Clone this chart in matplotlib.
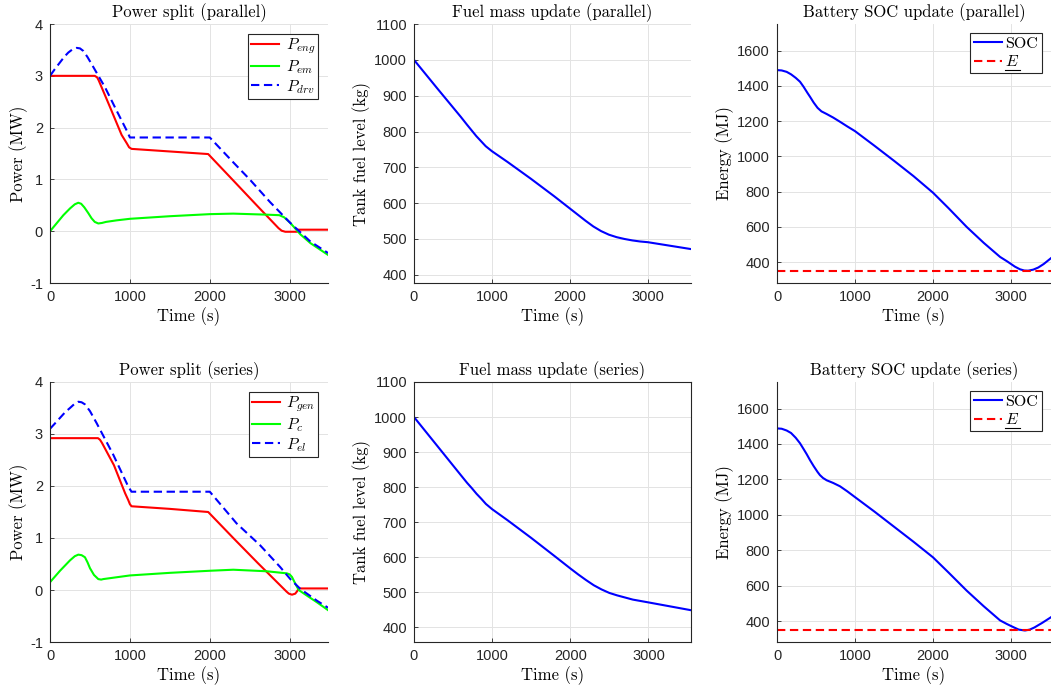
import numpy as np
import matplotlib.pyplot as plt
from matplotlib.lines import Line2D

plt.rcParams['mathtext.fontset'] = 'cm'
plt.rcParams['axes.unicode_minus'] = False
plt.rcParams['font.family'] = 'Liberation Sans'

# ---- power split, parallel (MW)
t_eng_par = [0, 560, 590, 610, 750, 896, 960, 990, 1021, 1500, 1980, 2300, 2600, 2860, 2900, 2945, 3092, 3100, 3480]
p_eng_par = [3.0, 3.0, 2.97, 2.91, 2.40, 1.86, 1.70, 1.62, 1.59, 1.54, 1.49, 0.97, 0.48, 0.06, 0.01, -0.01, -0.01, 0.03, 0.03]
t_em_par = [0, 167, 250, 310, 354, 390, 430, 479, 520, 560, 604, 650, 700, 833, 1000, 1500, 1875, 2000, 2294,
            2714, 2870, 2930, 3008, 3134, 3260, 3483]
p_em_par = [0.0, 0.31, 0.44, 0.52, 0.55, 0.53, 0.46, 0.35, 0.25, 0.18, 0.15, 0.16, 0.18, 0.21, 0.24, 0.29, 0.32,
            0.33, 0.34, 0.32, 0.31, 0.27, 0.16, -0.06, -0.23, -0.46]
t_drv_par = [0, 60, 125, 180, 229, 280, 333, 375, 417, 470, 542, 688, 833, 958, 1000, 2000, 2300, 2500, 2756, 3008,
             3260, 3480]
p_drv_par = [3.0, 3.13, 3.26, 3.37, 3.45, 3.51, 3.54, 3.53, 3.48, 3.36, 3.17, 2.78, 2.33, 1.95, 1.81, 1.81, 1.32,
             1.0, 0.56, 0.16, -0.2, -0.42]

# ---- power split, series (MW)
t_gen_ser = [0, 600, 625, 650, 800, 940, 979, 1000, 1020, 1500, 1980, 2300, 2600, 2960, 2990, 3029, 3070, 3095, 3113, 3480]
p_gen_ser = [2.92, 2.92, 2.89, 2.83, 2.40, 1.86, 1.73, 1.65, 1.61, 1.56, 1.50, 0.99, 0.52, -0.03, -0.07, -0.09, -0.07, -0.02, 0.03, 0.03]
t_c_ser = [0, 125, 250, 310, 354, 395, 437, 470, 500, 550, 604, 640, 667, 1000, 1500, 2000, 2294, 2714, 2966,
           3000, 3029, 3071, 3113, 3218, 3345, 3483]
p_c_ser = [0.15, 0.37, 0.57, 0.65, 0.68, 0.67, 0.63, 0.53, 0.42, 0.29, 0.21, 0.20, 0.21, 0.28, 0.33, 0.37, 0.39,
           0.36, 0.32, 0.30, 0.25, 0.12, 0.0, -0.11, -0.24, -0.39]
t_el_ser = [0, 60, 125, 190, 250, 300, 354, 395, 437, 500, 583, 792, 979, 1020, 2000, 2105, 2336, 2630, 2882, 3008,
            3134, 3345, 3480]
p_el_ser = [3.10, 3.20, 3.31, 3.42, 3.50, 3.57, 3.62, 3.61, 3.57, 3.44, 3.21, 2.60, 1.99, 1.89, 1.89, 1.70, 1.28,
            0.86, 0.44, 0.21, 0.02, -0.21, -0.34]

# ---- tank fuel level (kg)
t_fuel_par = [0, 300, 600, 680, 740, 800, 860, 920, 1000, 1100, 1200, 1500, 1800, 2000, 2100, 2200, 2300, 2400,
              2500, 2600, 2700, 2800, 2900, 3000, 3547]
fuel_par = [1000, 920, 841, 819, 803, 787, 773, 759, 745, 730, 715, 668, 619, 585, 568, 551, 535, 522, 512, 505,
            500, 496, 493, 491, 472]
t_fuel_ser = [0, 300, 600, 680, 740, 800, 860, 920, 1000, 1100, 1200, 1500, 1800, 2000, 2100, 2200, 2300, 2400,
              2500, 2600, 2700, 2800, 2900, 3000, 3538]
fuel_ser = [1000, 917, 834, 812, 797, 781, 767, 752, 737, 721, 705, 655, 603, 568, 551, 535, 520, 508, 498, 491,
            485, 479, 475, 471, 449]

# ---- battery energy (MJ)
t_soc_par = [0, 60, 124, 180, 240, 295, 340, 390, 423, 470, 520, 570, 637, 720, 808, 900, 1000, 1250, 1500, 1750,
             2000, 2200, 2432, 2650, 2860, 2950, 3050, 3115, 3170, 3220, 3286, 3350, 3420, 3513]
soc_par = [1489, 1487, 1479, 1465, 1445, 1423, 1395, 1360, 1338, 1305, 1275, 1255, 1240, 1220, 1196, 1170, 1143,
           1060, 975, 888, 794, 706, 600, 510, 430, 405, 375, 360, 353, 352, 358, 370, 390, 423]
t_soc_ser = [0, 60, 124, 180, 240, 295, 340, 380, 423, 470, 520, 551, 590, 637, 720, 808, 900, 1000, 1250, 1500,
             1750, 2000, 2200, 2432, 2650, 2860, 2950, 3040, 3100, 3179, 3240, 3300, 3400, 3513]
soc_ser = [1488, 1486, 1476, 1462, 1435, 1404, 1372, 1343, 1309, 1275, 1242, 1224, 1208, 1195, 1180, 1161, 1133,
           1100, 1018, 933, 848, 760, 674, 572, 484, 404, 383, 364, 352, 347, 352, 364, 390, 422]
e_min = 350

TXT = '#262626'
GRID = '#e3e3e3'
cm = {'family': 'cmr10', 'size': 12}

fig = plt.figure(figsize=(10.51, 6.91), dpi=100)
rows = [(0.5904, 0.3748), (0.0709, 0.3763)]
cols = [(0.0476, 0.2645), (0.3939, 0.2631), (0.7393, 0.2607)]


def style(ax, xmax, ylim, yticks, box=False):
    ax.set_xlim(0, xmax)
    ax.set_ylim(*ylim)
    ax.set_xticks([0, 1000, 2000, 3000])
    ax.set_yticks(yticks)
    ax.grid(True, color=GRID, lw=0.7)
    ax.set_axisbelow(True)
    for s in ['top', 'right']:
        ax.spines[s].set_visible(box)
    for s in ax.spines.values():
        s.set_color(TXT)
        s.set_linewidth(0.8)
    ax.tick_params(direction='in', length=3, width=0.6, colors=TXT, labelsize=10.5, pad=5)
    ax.set_xlabel('Time (s)', fontdict=cm, labelpad=2.5)


legends = []
for r, (b, h) in enumerate(rows):
    par = r == 0
    name = 'parallel' if par else 'series'

    # power split
    ax = fig.add_axes([cols[0][0], b, cols[0][1], h])
    if par:
        ax.plot(t_eng_par, p_eng_par, color='r', lw=1.5, label=r'$P_{eng}$')
        ax.plot(t_em_par, p_em_par, color='#00ff00', lw=1.5, label=r'$P_{em}$')
        ax.plot(t_drv_par, p_drv_par, color='b', lw=1.5, ls=(0, (4, 2.2)), label=r'$P_{drv}$')
    else:
        ax.plot(t_gen_ser, p_gen_ser, color='r', lw=1.5, label=r'$P_{gen}$')
        ax.plot(t_c_ser, p_c_ser, color='#00ff00', lw=1.5, label=r'$P_{c}$')
        ax.plot(t_el_ser, p_el_ser, color='b', lw=1.5, ls=(0, (4, 2.2)), label=r'$P_{el}$')
    style(ax, 3480, (-1, 4), [-1, 0, 1, 2, 3, 4])
    ax.set_title(f'Power split ({name})', fontdict=cm, pad=5)
    ax.set_ylabel('Power (MW)', fontdict=cm, labelpad=1.5)
    leg = ax.legend(loc='upper right', fancybox=False, edgecolor=TXT, framealpha=1,
                    prop={'size': 11.5}, handlelength=1.75, handletextpad=0.4,
                    labelspacing=0.12, borderpad=0.2, borderaxespad=0.6)
    leg.get_frame().set_linewidth(0.8)

    # fuel mass
    ax = fig.add_axes([cols[1][0], b, cols[1][1], h])
    if par:
        ax.plot(t_fuel_par, fuel_par, color='b', lw=1.5)
        style(ax, 3547, (377, 1100), range(400, 1101, 100))
    else:
        ax.plot(t_fuel_ser, fuel_ser, color='b', lw=1.5)
        style(ax, 3538, (358, 1100), range(400, 1101, 100), box=True)
    ax.set_title(f'Fuel mass update ({name})', fontdict=cm, pad=5)
    ax.set_ylabel('Tank fuel level (kg)', fontdict=cm, labelpad=2)

    # battery energy
    ax = fig.add_axes([cols[2][0], b, cols[2][1], h])
    t_soc = t_soc_par if par else t_soc_ser
    soc = soc_par if par else soc_ser
    ax.plot(t_soc, soc, color='b', lw=1.5, label='SOC')
    ax.plot([0, 3513], [e_min, e_min], color='r', lw=1.5, ls=(0, (4, 2.2)), label='$E$')
    style(ax, 3513, (282, 1750), range(400, 1601, 200))
    ax.set_title(f'Battery SOC update ({name})', fontdict=cm, pad=5)
    ax.set_ylabel('Energy (MJ)', fontdict=cm, labelpad=2.5)
    leg = ax.legend(loc='upper right', fancybox=False, edgecolor=TXT, framealpha=1,
                    prop={'family': 'cmr10', 'size': 11.5}, handlelength=1.8, handletextpad=0.2,
                    labelspacing=0.2, borderpad=0.25, borderaxespad=0.55)
    leg.get_frame().set_linewidth(0.8)
    legends.append(leg)

# underline the E in the energy legends
fig.canvas.draw()
renderer = fig.canvas.get_renderer()
inv = fig.transFigure.inverted()
for leg in legends:
    bb = leg.get_texts()[1].get_window_extent(renderer)
    (x0, y0), (x1, _) = inv.transform([(bb.x0, bb.y0 - 1), (bb.x1, bb.y0 - 1)])
    fig.add_artist(Line2D([x0, x1], [y0, y0], transform=fig.transFigure, color='k', lw=0.8))

fig.savefig('out.png', dpi=100)
